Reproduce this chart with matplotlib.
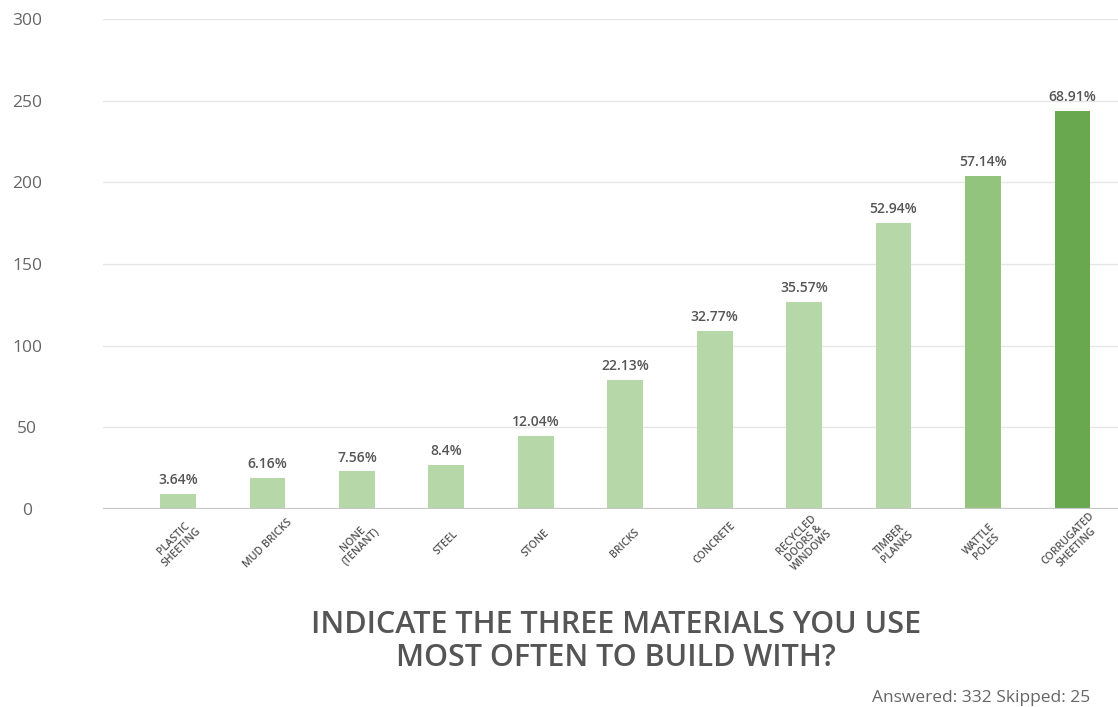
import matplotlib.pyplot as plt

materials = [
    "PLASTIC\nSHEETING", "MUD BRICKS", "NONE\n(TENANT)", "STEEL", "STONE",
    "BRICKS", "CONCRETE", "RECYCLED\nDOORS &\nWINDOWS", "TIMBER\nPLANKS",
    "WATTLE\nPOLES", "CORRUGATED\nSHEETING",
]
responses = [9, 19, 23, 27, 45, 79, 109, 127, 175, 204, 244]
share_labels = ["3.64%", "6.16%", "7.56%", "8.4%", "12.04%", "22.13%",
                "32.77%", "35.57%", "52.94%", "57.14%", "68.91%"]
bar_colors = ["#b6d7a8"] * 9 + ["#93c47d", "#6aa84f"]
y_ticks = [0, 50, 100, 150, 200, 250, 300]

FONT = ["Open Sans", "DejaVu Sans"]
plt.rcParams["font.family"] = FONT

fig = plt.figure(figsize=(11.18, 7.07), dpi=100)
ax = fig.add_axes([0.0921, 0.280, 0.9079, 0.693])

x = range(len(materials))
bars = ax.bar(x, responses, width=0.40, color=bar_colors, zorder=3)
ax.bar_label(bars, labels=share_labels, padding=5, fontsize=10,
             fontweight="semibold", color="#555555")

ax.set_xlim(-0.84, 10.51)
ax.set_ylim(0, 300)
ax.set_yticks(y_ticks)
ax.set_yticklabels([str(t) for t in y_ticks])
ax.yaxis.grid(True, color="#e6e6e6", linewidth=1, zorder=0)
ax.axhline(0, color="#c8c8c8", linewidth=1.6, zorder=4)

for side in ax.spines.values():
    side.set_visible(False)

ax.tick_params(axis="y", length=0, pad=54.7, labelsize=12.5, labelcolor="#666666")
for lbl in ax.get_yticklabels():
    lbl.set_ha("center")

ax.set_xticks(list(x))
ax.set_xticklabels(materials)
ax.tick_params(axis="x", length=0, pad=24.5, labelsize=7.6, labelcolor="#555555")
for lbl in ax.get_xticklabels():
    lbl.set_rotation(45)
    lbl.set_rotation_mode("anchor")
    lbl.set_ha("center")
    lbl.set_va("center")
    lbl.set_multialignment("center")
    lbl.set_linespacing(1.0)
    lbl.set_fontweight("semibold")

fig.text(0.551, 0.093, "INDICATE THE THREE MATERIALS YOU USE\nMOST OFTEN TO BUILD WITH?",
         ha="center", va="center", fontsize=22, color="#555555",
         linespacing=1.15, fontweight="semibold")
fig.text(0.975, 0.002, "Answered: 332 Skipped: 25", ha="right", va="bottom",
         fontsize=12.5, color="#666666")

fig.savefig("out.png", dpi=100)
